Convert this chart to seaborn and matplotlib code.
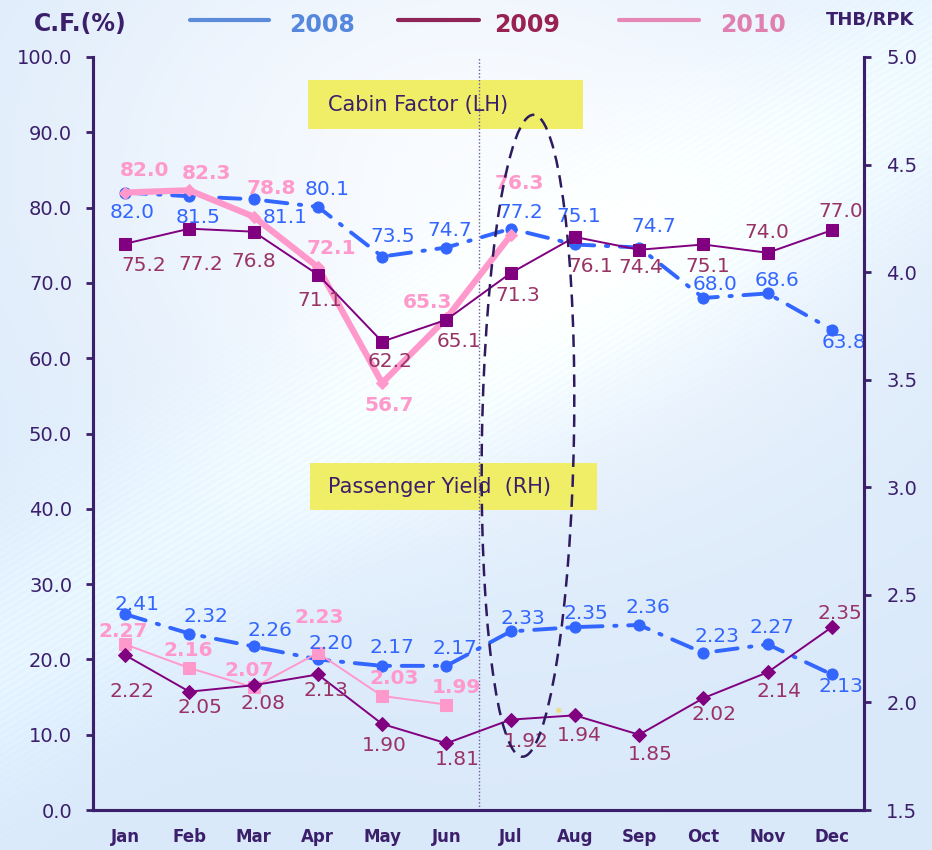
import numpy as np
import matplotlib
matplotlib.use("Agg")
import matplotlib.pyplot as plt
import seaborn as sns
from matplotlib.patches import Ellipse, Rectangle
from matplotlib.lines import Line2D
from matplotlib.transforms import IdentityTransform

# ---- data -------------------------------------------------------------
months = ["Jan", "Feb", "Mar", "Apr", "May", "Jun",
          "Jul", "Aug", "Sep", "Oct", "Nov", "Dec"]
years = ["2008", "2009", "2010"]

cf_2008 = [82.0, 81.5, 81.1, 80.1, 73.5, 74.7, 77.2, 75.1, 74.7, 68.0, 68.6, 63.8]
cf_2009 = [75.2, 77.2, 76.8, 71.1, 62.2, 65.1, 71.3, 76.1, 74.4, 75.1, 74.0, 77.0]
cf_2010 = [82.0, 82.3, 78.8, 72.1, 56.7, 65.3, 76.3]

yield_2008 = [2.41, 2.32, 2.26, 2.20, 2.17, 2.17, 2.33, 2.35, 2.36, 2.23, 2.27, 2.13]
yield_2009 = [2.22, 2.05, 2.08, 2.13, 1.90, 1.81, 1.92, 1.94, 1.85, 2.02, 2.14, 2.35]
yield_2010 = [2.27, 2.16, 2.07, 2.23, 2.03, 1.99]

cf_ticks = [0.0, 10.0, 20.0, 30.0, 40.0, 50.0, 60.0, 70.0, 80.0, 90.0, 100.0]
yield_ticks = [1.5, 2.0, 2.5, 3.0, 3.5, 4.0, 4.5, 5.0]

# ---- label placement (pixel offsets: right, up) ------------------------
cf08_off = [(7, -20), (9, -21), (31, -18), (9, 17), (11, 20), (3, 17),
            (10, 16), (4, 28), (15, 21), (12, 13), (9, 13), (12, -13)]
cf09_off = [(19, -22), (11, -36), (0, -30), (2, -26), (8, -20), (13, -22),
            (7, -22), (16, -30), (2, -18), (4, -22), (-1, 20), (9, 19)]
cf10_off = [(19, 22), (17, 17), (18, 28), (13, 19), (7, -22), (-19, 16), (9, 52)]
y08_off = [(12, 10), (17, 17), (16, 16), (13, 16), (10, 18), (9, 17),
           (12, 13), (11, 14), (9, 17), (14, 16), (4, 17), (9, -12)]
y09_off = [(7, -36), (11, -16), (9, -18), (8, -16), (2, -22), (11, -16),
           (16, -22), (4, -20), (11, -20), (11, -16), (11, -19), (8, 14)]
y10_off = [(-2, 13), (-1, 18), (-4, 17), (1, 35), (12, 17), (10, 17)]

# ---- colours ------------------------------------------------------------
BLUE = "#3366FF"
PURPLE = "#800080"
PURPLE_TXT = "#993366"
PINK = "#FF99CC"
INK = "#3B1F6B"

W, H = 932, 850
sns.set_style("white")
plt.rcParams["font.family"] = ["DejaVu Sans"]

fig = plt.figure(figsize=(W / 100, H / 100), dpi=100)


def fx(x):
    return x / W


def fy(y):
    return 1 - y / H


# ---- soft background -------------------------------------------------------
yy, xx = np.mgrid[0:H, 0:W].astype(float)
base = np.array([0.855, 0.915, 0.980])
white = np.array([0.975, 0.985, 1.0])
glow = np.exp(-(((xx - 470) / 430) ** 2 + ((yy - 170) / 330) ** 2))
img = base[None, None, :] * (1 - glow[..., None]) + white[None, None, :] * glow[..., None]
# diagonal striped band rising to the right
d = (yy - (700 - 0.62 * xx)) / np.sqrt(1 + 0.62 ** 2)
band = np.exp(-((d + 40) / 110) ** 2)
stripes = 0.5 + 0.5 * np.sin(2 * np.pi * d / 6.0)
img = img + (band * (0.035 + 0.02 * stripes))[..., None] * np.array([1.0, 1.0, 0.6])
img = np.clip(img, 0, 1)
bg = fig.add_axes([0, 0, 1, 1], zorder=-5)
bg.imshow(img, aspect="auto", interpolation="bilinear")
bg.axis("off")

# ---- axes -------------------------------------------------------------
ax = fig.add_axes([fx(93), fy(810), (864 - 93) / W, (810 - 57) / H])
ax.set_facecolor("none")
ax2 = ax.twinx()

x_full = np.arange(len(months))


def draw(axis, values, color, marker, ms, lw, dashes=None, z=3):
    xs = x_full[:len(values)]
    sns.lineplot(x=xs, y=values, ax=axis, color=color, marker=marker,
                 markersize=ms, linewidth=lw, markeredgecolor=color,
                 markerfacecolor=color, zorder=z, legend=False)
    line = axis.lines[-1]
    if dashes is not None:
        line.set_dashes(dashes)
        line.set_dash_capstyle("round")
    return line


# Cabin factor (left axis)
draw(ax, cf_2008, BLUE, "o", 8, 2.8, dashes=(5.5, 3, 0.6, 3), z=3)
draw(ax, cf_2010, PINK, "D", 6, 4.5, z=4)
draw(ax, cf_2009, PURPLE, "s", 9, 1.4, z=5)

# Passenger yield (right axis)
draw(ax2, yield_2008, BLUE, "o", 8, 2.8, dashes=(5.5, 3, 0.6, 3), z=3)
draw(ax2, yield_2010, PINK, "s", 9, 1.4, z=4)
draw(ax2, yield_2009, PURPLE, "D", 7, 1.4, z=5)


def labels(axis, values, offsets, color, bold=False, fmt="{:.1f}"):
    for i, (v, off) in enumerate(zip(values, offsets)):
        axis.annotate(fmt.format(v), (x_full[i], v), xytext=off,
                      textcoords="offset pixels", ha="center", va="center",
                      color=color, fontsize=14.5,
                      fontweight="bold" if bold else "normal", zorder=7)


labels(ax, cf_2008, cf08_off, BLUE)
labels(ax, cf_2009, cf09_off, PURPLE_TXT)
labels(ax, cf_2010, cf10_off, PINK, bold=True)
labels(ax2, yield_2008, y08_off, BLUE, fmt="{:.2f}")
labels(ax2, yield_2009, y09_off, PURPLE_TXT, fmt="{:.2f}")
labels(ax2, yield_2010, y10_off, PINK, bold=True, fmt="{:.2f}")

# scales
ax.set_xlim(-0.5, len(months) - 0.5)
ax.set_ylim(cf_ticks[0], cf_ticks[-1])
ax2.set_ylim(yield_ticks[0], yield_ticks[-1])
ax.set_yticks(cf_ticks)
ax.set_yticklabels([f"{t:.1f}" for t in cf_ticks])
ax2.set_yticks(yield_ticks)
ax2.set_yticklabels([f"{t:.1f}" for t in yield_ticks])
ax.set_xticks(np.arange(0.5, len(months) - 1, 1.0))
ax.set_xticklabels([])
ax.set_xticks(x_full, minor=True)
ax.set_xticklabels(months, minor=True, fontsize=12, fontweight="bold", color=INK)
ax.tick_params(axis="x", which="major", direction="out", length=5, width=2, color=INK)
ax.tick_params(axis="x", which="minor", length=0, pad=13)
ax.tick_params(axis="y", direction="out", length=5, width=2, color=INK,
               labelcolor=INK, labelsize=14, pad=10)
ax2.tick_params(axis="y", direction="out", length=5, width=2, color=INK,
                labelcolor=INK, labelsize=14, pad=11)
ax.set_xlabel("")
ax.set_ylabel("")
ax2.set_ylabel("")

for a in (ax, ax2):
    a.spines["top"].set_visible(False)
    for side in ("left", "right", "bottom"):
        a.spines[side].set_color(INK)
        a.spines[side].set_linewidth(2.2)
ax.grid(False)
ax2.grid(False)

# half-year divider
ax.axvline(5.5, color="#6A5A9A", lw=1.0, linestyle=(0, (1, 1.5)), zorder=2)

# caption boxes
for (x0, y0, x1, y1), text in (((308, 80, 583, 129), "Cabin Factor (LH)"),
                               ((310, 463, 597, 510), "Passenger Yield  (RH)")):
    ax.add_patch(Rectangle((fx(x0), fy(y1)), (x1 - x0) / W, (y1 - y0) / H,
                           transform=fig.transFigure, facecolor="#EFEE66",
                           edgecolor="none", zorder=1, clip_on=False))
    ax.text(fx(328), fy((y0 + y1) / 2 + 1), text, transform=fig.transFigure,
            ha="left", va="center", fontsize=15, color=INK, zorder=1.5)

# dashed ring around July
fig.canvas.draw()
cx, cy = ax.transData.transform((6.27, 49.7))
ax2.add_patch(Ellipse((cx, cy), 92, 642, angle=-1.0, transform=IdentityTransform(),
                      fill=False, edgecolor="#2E1A5E", lw=1.8,
                      linestyle=(0, (5, 3)), zorder=8, clip_on=False))

fig.text(fx(558), fy(715), "*", color="#F2D84A", fontsize=11, ha="center", va="center")

# header: axis titles and legend
fig.text(fx(34), fy(24), "C.F.(%)", fontsize=17, fontweight="bold", color=INK,
         ha="left", va="center")
fig.text(fx(826), fy(19), "THB/RPK", fontsize=13, fontweight="bold", color=INK,
         ha="left", va="center")
leg_colors = ["#5B8BD9", "#8E2458", "#E588B8"]
leg_text_colors = ["#5588DD", "#992255", "#E080B0"]
leg_line_x = [(190, 269), (398, 479), (619, 699)]
leg_text_x = [289, 494, 720]
for yr, lc, tc, (l0, l1), tx in zip(years, leg_colors, leg_text_colors, leg_line_x, leg_text_x):
    fig.add_artist(Line2D([fx(l0), fx(l1)], [fy(20), fy(20)], transform=fig.transFigure,
                          color=lc, lw=3))
    fig.text(fx(tx), fy(25), yr, fontsize=17, fontweight="bold", color=tc,
             ha="left", va="center")

fig.savefig("out.png", dpi=100)
